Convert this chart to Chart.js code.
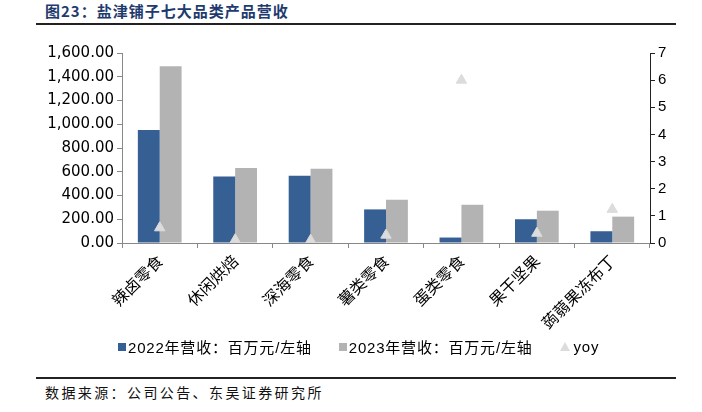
<!DOCTYPE html>
<html lang="zh">
<head>
<meta charset="UTF-8">
<title>盐津铺子七大品类产品营收</title>
<style>
  body { margin: 0; background: #fff; width: 702px; height: 412px; position: relative; overflow: hidden; }
  .title { position: absolute; left: 45px; top: 0px; font: bold 15px "Noto Sans CJK SC", sans-serif; letter-spacing: 1px; color: #1f3b6e; }
  .rule { position: absolute; left: 36px; width: 640px; height: 2px; background: #222; }
  .source { position: absolute; left: 45px; top: 382px; font: 14px "Noto Sans CJK SC", sans-serif; letter-spacing: 2.4px; color: #111; }
  .box { position: absolute; left: 0; top: 30px; width: 702px; height: 330px; }
  .chart-legend { position: absolute; left: 118px; top: 336px; display: flex; align-items: center; gap: 27px;
                  font: 15px "Liberation Sans", "Noto Sans CJK SC", sans-serif; letter-spacing: 0.8px; color: #000; }
  .legend-item { display: flex; align-items: center; }
  .legend-color { display: inline-block; width: 8px; height: 8px; margin-right: 2px; }
  .legend-tri { display: inline-block; width: 0; height: 0; margin-right: 4px;
                border-left: 5px solid transparent; border-right: 5px solid transparent; border-bottom: 9px solid #dcdcdc; }
</style>
</head>
<body>
<div class="title">图23：盐津铺子七大品类产品营收</div>
<div class="rule" style="top:23px"></div>
<div class="box"><canvas id="myChart"></canvas></div>
<div class="chart-legend" id="div_legenda"></div>
<div class="rule" style="top:377px"></div>
<div class="source">数据来源：公司公告、东吴证券研究所</div>

<script src="https://cdn.jsdelivr.net/npm/chart.js"></script>
<script>
var categorias = ['辣卤零食', '休闲烘焙', '深海零食', '薯类零食', '蛋类零食', '果干坚果', '蒟蒻果冻布丁'];
var receita2022 = [952, 561, 567, 283, 46, 200, 99];
var receita2023 = [1489, 631, 625, 364, 322, 272, 222];
var yoy = [0.56, 0.12, 0.10, 0.29, 6.0, 0.36, 1.24];
var ticksEsq = [0, 200, 400, 600, 800, 1000, 1200, 1400, 1600];
var ticksDir = [0, 1, 2, 3, 4, 5, 6, 7];

var nomesSeries = ['2022年营收：百万元/左轴', '2023年营收：百万元/左轴', 'yoy'];
var cores = ['#365f94', '#b3b3b3', '#dcdcdc'];

var fonteNum = '"Liberation Sans", "Noto Sans CJK SC", sans-serif';

var ctx = document.getElementById('myChart').getContext('2d');
new Chart(ctx, {
    type: 'bar',
    data: {
        labels: categorias,
        datasets: [{
            label: nomesSeries[0],
            data: receita2022,
            backgroundColor: cores[0],
            yAxisID: 'y',
            order: 1,
            categoryPercentage: 0.58,
            barPercentage: 1
        }, {
            label: nomesSeries[1],
            data: receita2023,
            backgroundColor: cores[1],
            yAxisID: 'y',
            order: 1,
            categoryPercentage: 0.58,
            barPercentage: 1
        }, {
            type: 'line',
            label: nomesSeries[2],
            data: yoy,
            yAxisID: 'y1',
            showLine: false,
            order: 0,
            pointStyle: 'triangle',
            pointRadius: 6,
            pointBackgroundColor: cores[2],
            pointBorderColor: cores[2]
        }]
    },
    options: {
        responsive: true,
        maintainAspectRatio: false,
        animation: false,
        layout: { padding: { top: 23, right: 0, left: 0, bottom: 0 } },
        scales: {
            x: {
                afterFit: function (axis) { axis.height = 117; },
                grid: { drawOnChartArea: false, color: '#888', tickLength: 5 },
                border: { color: '#888' },
                ticks: {
                    color: '#000',
                    maxRotation: 45,
                    minRotation: 45,
                    font: { family: '"Noto Sans CJK SC", sans-serif', size: 16 }
                }
            },
            y: {
                position: 'left',
                min: 0,
                max: 1600,
                afterBuildTicks: function (axis) {
                    axis.ticks = ticksEsq.map(function (v) { return { value: v }; });
                },
                afterFit: function (axis) { axis.width = 122; },
                grid: { drawOnChartArea: false, color: '#888', tickLength: 5 },
                border: { color: '#888' },
                ticks: {
                    color: '#000',
                    font: { family: '"DejaVu Sans", sans-serif', size: 15 },
                    callback: function (v) {
                        return v.toLocaleString('en-US', { minimumFractionDigits: 2, maximumFractionDigits: 2 });
                    }
                }
            },
            y1: {
                position: 'right',
                min: 0,
                max: 7,
                afterBuildTicks: function (axis) {
                    axis.ticks = ticksDir.map(function (v) { return { value: v }; });
                },
                afterFit: function (axis) { axis.width = 52; },
                grid: { drawOnChartArea: false, color: '#222', tickLength: 5 },
                border: { color: '#222' },
                ticks: {
                    color: '#000',
                    font: { family: fonteNum, size: 15 }
                }
            }
        },
        plugins: {
            legend: { display: false },
            tooltip: { enabled: false }
        }
    }
});

// legenda feita a mao
var legenda = document.getElementById('div_legenda');
for (var i = 0; i < nomesSeries.length; i++) {
    var item = document.createElement('div');
    item.classList.add('legend-item');

    var marca = document.createElement('span');
    if (i < 2) {
        marca.classList.add('legend-color');
        marca.style.backgroundColor = cores[i];
    } else {
        marca.classList.add('legend-tri');
    }

    var texto = document.createElement('span');
    texto.textContent = nomesSeries[i];

    item.appendChild(marca);
    item.appendChild(texto);
    legenda.appendChild(item);
}
</script>
</body>
</html>
